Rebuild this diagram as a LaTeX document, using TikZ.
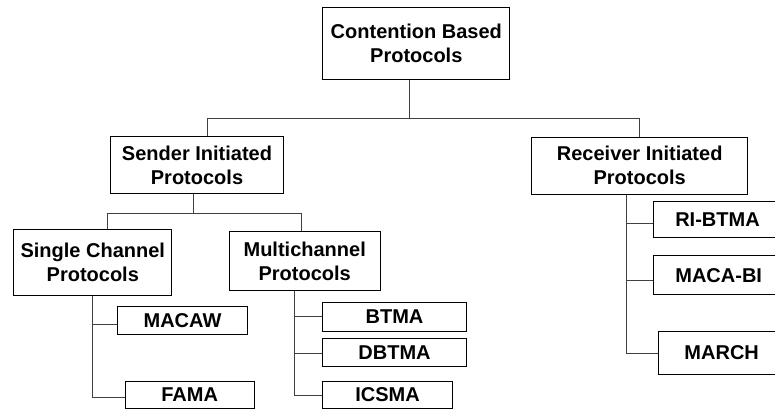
\documentclass[tikz,border=0pt]{standalone}
\usepackage{fontspec}
\setmainfont{Liberation Sans}
\begin{document}
\begin{tikzpicture}[x=1pt,y=-1pt,
  box/.style={draw=black,line width=1pt,inner sep=0pt,align=center,
    font=\fontsize{20pt}{24pt}\selectfont\bfseries},
  link/.style={draw=black!75,line width=1pt}]
\useasboundingbox (0,0) rectangle (775,408);
\clip (0,0) rectangle (775,408);

% root
\node[box,minimum width=187.3pt,minimum height=71.7pt] (root) at (416.3,43.2) {Contention Based\\Protocols};

% second level
\node[box,minimum width=172.6pt,minimum height=57.3pt] (send) at (197,165.3) {Sender Initiated\\Protocols};
\node[box,minimum width=216pt,minimum height=57pt] (recv) at (639.7,165.8) {Receiver Initiated\\Protocols};

% sender-initiated families
\node[box,minimum width=157.7pt,minimum height=65.7pt] (sgl) at (92.8,262.8) {Single Channel\\Protocols};
\node[box,minimum width=150.7pt,minimum height=59.3pt] (mlt) at (304.7,261.3) {Multichannel\\Protocols};

% leaves
\node[box,minimum width=129.6pt,minimum height=28.3pt] (macaw) at (182.5,320.8) {MACAW};
\node[box,minimum width=129.3pt,minimum height=26.6pt] (fama) at (189.7,395) {FAMA};
\node[box,minimum width=144.4pt,minimum height=28.7pt] (btma) at (394.5,316.7) {BTMA};
\node[box,minimum width=144.4pt,minimum height=28.4pt] (dbtma) at (394.5,352.5) {DBTMA};
\node[box,minimum width=129.6pt,minimum height=26.6pt] (icsma) at (387.5,395) {ICSMA};
\node[box,minimum width=128.4pt,minimum height=35.6pt] (ribtma) at (717.5,219.5) {RI-BTMA};
\node[box,minimum width=130.7pt,minimum height=39.3pt] (macabi) at (718.7,275.3) {MACA-BI};
\node[box,minimum width=126.7pt,minimum height=42.6pt] (march) at (721.7,353) {MARCH};

% junction points
\coordinate (j0) at (409.3,118.5);
\coordinate (ja) at (207.7,118.5);
\coordinate (jb) at (639.3,118.5);
\coordinate (k0) at (193.3,213.3);
\coordinate (ka) at (107.3,213.3);
\coordinate (kb) at (301.7,213.3);
\coordinate (cs) at (92.7,0);
\coordinate (cm) at (294.3,0);
\coordinate (cr) at (626.7,0);

% root to second level
\draw[link] (root.south -| j0) -- (j0);
\draw[link] (send.north -| ja) -- (ja) -- (jb) -- (recv.north -| jb);

% sender to its families
\draw[link] (send.south -| k0) -- (k0);
\draw[link] (sgl.north -| ka) -- (ka) -- (kb) -- (mlt.north -| kb);

% single channel
\draw[link] (sgl.south -| cs) |- ([yshift=-3.2pt]macaw.west);
\draw[link] (sgl.south -| cs) |- ([yshift=-2.7pt]fama.west);

% multichannel
\draw[link] (mlt.south -| cm) |- (btma.west);
\draw[link] (mlt.south -| cm) |- ([yshift=-0.8pt]dbtma.west);
\draw[link] (mlt.south -| cm) |- ([yshift=-0.7pt]icsma.west);

% receiver initiated
\draw[link] (recv.south -| cr) |- ([yshift=-3.8pt]ribtma.west);
\draw[link] (recv.south -| cr) |- ([yshift=-4.7pt]macabi.west);
\draw[link] (recv.south -| cr) |- ([yshift=-0.3pt]march.west);
\end{tikzpicture}
\end{document}
